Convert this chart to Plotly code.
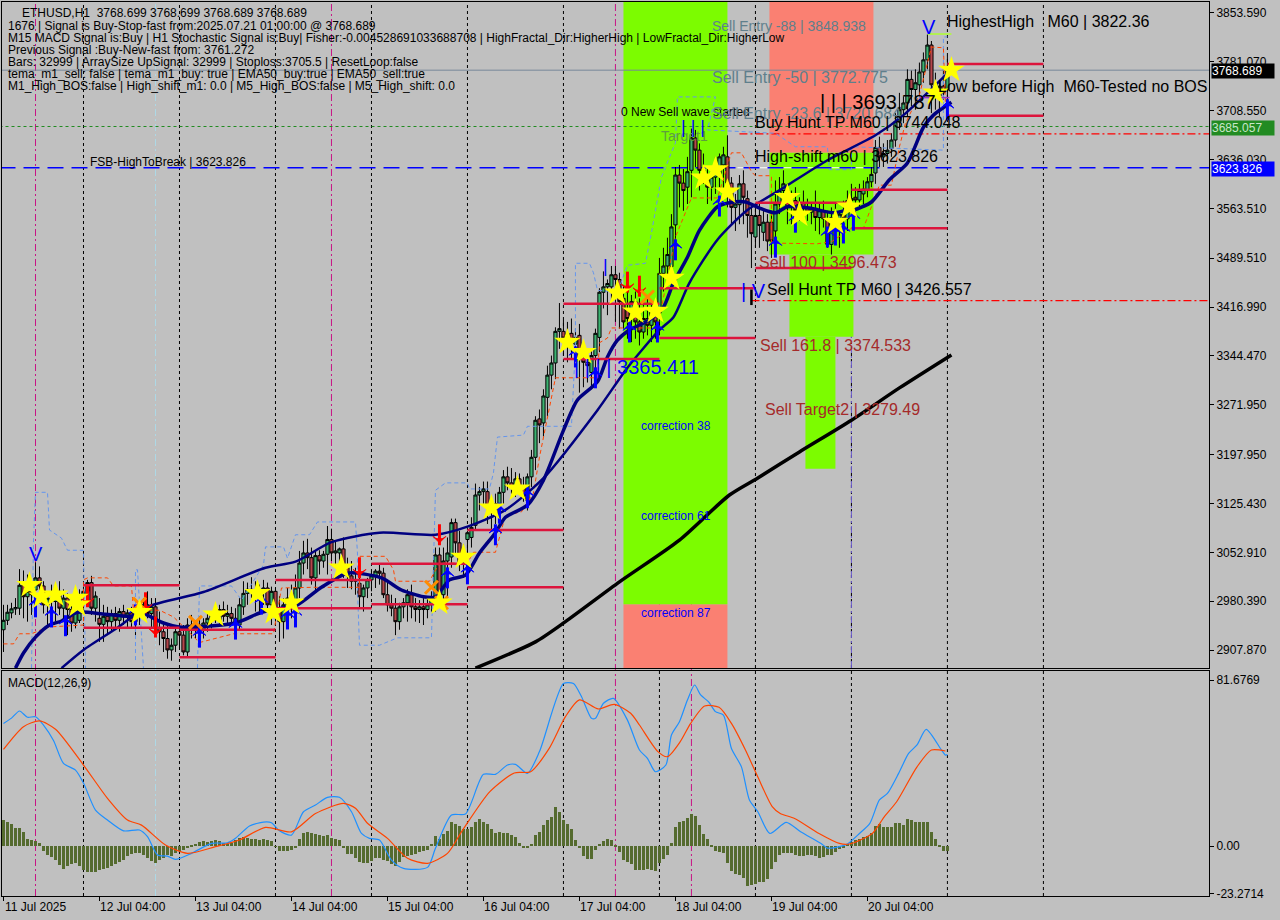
import plotly.graph_objects as go

BG = '#c0c0c0'
FONT = 'Liberation Sans'

# ----- candles, bar 0 is the first hour shown, one row per 24 bars
open_ = [
    2938, 2952, 2963, 2969, 2970, 3004, 2987, 2995, 2997, 3015, 3003, 2975, 2985, 2980, 2995, 2970, 2985, 2968, 2948, 2952, 2990, 2995, 3008, 2970,
    2955, 2946, 2958, 2950, 2962, 2952, 2965, 2957, 2963, 2950, 2958, 2967, 2975, 2962, 2972, 2940, 2935, 2925, 2908, 2915, 2935, 2930, 2905, 2945,
    2940, 2945, 2938, 2948, 2955, 2960, 2952, 2968, 2958, 2962, 2955, 2945, 2972, 2992, 2998, 2995, 2985, 2995, 3000, 2975, 2995, 2965, 2950, 2975,
    2985, 2975, 3000, 3037, 3052, 3045, 3015, 3048, 3040, 3050, 3072, 3052, 3052, 3058, 3030, 3018, 3010, 3007, 2987, 3000, 3012, 3018, 3025, 3022,
    2990, 2975, 2970, 2950, 2972, 2978, 2990, 2972, 2968, 2972, 2968, 2975, 2982, 3049, 2990, 3040, 3046, 3097, 3067, 3038, 3072, 3075, 3093, 3138,
    3143, 3143, 3122, 3110, 3125, 3142, 3165, 3156, 3150, 3162, 3150, 3130, 3165, 3194, 3251, 3245, 3283, 3316, 3334, 3381, 3381, 3371, 3378, 3362,
    3375, 3340, 3335, 3320, 3345, 3372, 3439, 3447, 3447, 3465, 3458, 3430, 3415, 3400, 3425, 3395, 3380, 3400, 3390, 3410, 3408, 3467, 3478, 3477,
    3539, 3613, 3601, 3595, 3620, 3668, 3650, 3620, 3605, 3595, 3610, 3615, 3628, 3640, 3601, 3565, 3569, 3600, 3578, 3553, 3521, 3553, 3528, 3543,
    3543, 3530, 3570, 3590, 3590, 3565, 3575, 3560, 3572, 3565, 3558, 3562, 3550, 3560, 3548, 3510, 3550, 3540, 3555, 3548, 3575, 3580, 3576, 3585,
    3591, 3603, 3616, 3654, 3640, 3645, 3652, 3665, 3692, 3710, 3720, 3755, 3740, 3747, 3766, 3784, 3806, 3747, 3730, 3745, 3740,
]
high = [
    2975, 2975, 2978, 2985, 3028, 3026, 3020, 3012, 3038, 3032, 3010, 2995, 3005, 3008, 3010, 2998, 2992, 2990, 2985, 2998, 3002, 3012, 3018, 2995,
    2985, 2975, 2972, 2968, 2972, 2970, 2975, 2968, 2972, 2965, 2975, 2985, 2995, 2985, 2985, 2965, 2950, 2945, 2925, 2945, 2948, 2945, 2955, 2960,
    2952, 2958, 2955, 2962, 2965, 2972, 2975, 2980, 2975, 2972, 2970, 2985, 3010, 3008, 3016, 3010, 3005, 3012, 3008, 3002, 3000, 2988, 2985, 3000,
    3005, 3020, 3055, 3070, 3073, 3060, 3055, 3056, 3055, 3092, 3088, 3070, 3060, 3075, 3045, 3040, 3030, 3022, 3005, 3015, 3025, 3028, 3035, 3030,
    3008, 2990, 2985, 2978, 2985, 2998, 3005, 2985, 2982, 2985, 2985, 2995, 3060, 3060, 3060, 3075, 3103, 3103, 3085, 3065, 3085, 3105, 3155, 3150,
    3158, 3158, 3135, 3140, 3150, 3175, 3180, 3178, 3172, 3170, 3165, 3170, 3205, 3255, 3265, 3295, 3330, 3345, 3387, 3423, 3398, 3395, 3400, 3385,
    3392, 3362, 3352, 3355, 3385, 3445, 3470, 3458, 3478, 3478, 3468, 3450, 3440, 3435, 3440, 3430, 3420, 3430, 3420, 3425, 3490, 3505, 3520, 3555,
    3625, 3628, 3622, 3640, 3682, 3680, 3660, 3645, 3625, 3620, 3640, 3645, 3655, 3672, 3610, 3585, 3613, 3620, 3590, 3565, 3570, 3570, 3560, 3555,
    3560, 3605, 3610, 3620, 3600, 3590, 3595, 3580, 3590, 3578, 3572, 3590, 3570, 3575, 3560, 3565, 3570, 3560, 3575, 3590, 3600, 3595, 3600, 3605,
    3610, 3625, 3665, 3670, 3660, 3665, 3675, 3705, 3735, 3730, 3770, 3768, 3770, 3780, 3795, 3822, 3812, 3765, 3752, 3770, 3790,
]
low = [
    2905, 2945, 2955, 2960, 2960, 2955, 2950, 2960, 2972, 2995, 2962, 2945, 2955, 2950, 2960, 2950, 2930, 2935, 2940, 2948, 2965, 2975, 2960, 2950,
    2920, 2920, 2930, 2935, 2940, 2935, 2945, 2942, 2940, 2930, 2945, 2955, 2955, 2940, 2930, 2915, 2905, 2895, 2892, 2905, 2910, 2900, 2898, 2925,
    2925, 2930, 2925, 2935, 2940, 2948, 2945, 2950, 2945, 2948, 2935, 2938, 2960, 2975, 2985, 2965, 2960, 2975, 2965, 2945, 2950, 2920, 2925, 2940,
    2955, 2960, 2985, 3020, 3028, 3005, 2995, 3020, 3030, 3020, 3040, 3030, 3030, 3015, 3000, 2998, 2990, 2970, 2965, 2985, 2995, 3000, 3005, 2985,
    2965, 2958, 2930, 2938, 2955, 2950, 2955, 2950, 2948, 2945, 2955, 2965, 2965, 2985, 2980, 2985, 3030, 3050, 3025, 3015, 3020, 3060, 3085, 3115,
    3125, 3095, 3085, 3095, 3110, 3125, 3145, 3140, 3135, 3140, 3128, 3115, 3150, 3175, 3215, 3225, 3255, 3295, 3310, 3355, 3345, 3335, 3340, 3330,
    3290, 3298, 3305, 3295, 3320, 3350, 3415, 3405, 3425, 3395, 3385, 3385, 3370, 3365, 3370, 3360, 3370, 3375, 3365, 3370, 3375, 3440, 3460, 3465,
    3510, 3565, 3560, 3570, 3580, 3625, 3590, 3600, 3570, 3575, 3585, 3595, 3590, 3565, 3540, 3530, 3540, 3540, 3520, 3475, 3505, 3505, 3515, 3500,
    3490, 3510, 3555, 3575, 3540, 3540, 3545, 3545, 3550, 3545, 3540, 3530, 3525, 3535, 3505, 3495, 3520, 3505, 3535, 3530, 3560, 3555, 3565, 3570,
    3580, 3595, 3600, 3625, 3625, 3630, 3640, 3655, 3680, 3690, 3700, 3715, 3710, 3730, 3750, 3770, 3705, 3710, 3700, 3725, 3700,
]
close = [
    2952, 2964, 2969, 2971, 3004, 2987, 2995, 2990, 3015, 3003, 2975, 2985, 2980, 2995, 2970, 2985, 2968, 2948, 2965, 2990, 2995, 3008, 2970, 2988,
    2946, 2958, 2950, 2962, 2952, 2965, 2957, 2963, 2950, 2958, 2967, 2975, 2962, 2972, 2940, 2935, 2925, 2908, 2915, 2935, 2930, 2905, 2945, 2938,
    2945, 2938, 2948, 2955, 2960, 2952, 2968, 2958, 2962, 2955, 2945, 2975, 2992, 2998, 2995, 2985, 2995, 3000, 2975, 2995, 2965, 2950, 2975, 2985,
    2975, 3000, 3037, 3052, 3045, 3015, 3048, 3040, 3050, 3072, 3052, 3055, 3058, 3030, 3018, 3010, 3012, 2987, 3000, 3012, 3018, 3025, 3022, 2990,
    2975, 2970, 2950, 2972, 2978, 2990, 2972, 2968, 2972, 2968, 2975, 2985, 3049, 2990, 3040, 3052, 3097, 3067, 3038, 3055, 3082, 3090, 3138, 3143,
    3147, 3122, 3118, 3125, 3142, 3165, 3156, 3150, 3162, 3150, 3138, 3165, 3194, 3249, 3242, 3285, 3316, 3334, 3381, 3385, 3371, 3378, 3365, 3372,
    3340, 3335, 3330, 3345, 3378, 3439, 3447, 3452, 3465, 3458, 3425, 3395, 3400, 3425, 3395, 3380, 3400, 3390, 3410, 3395, 3467, 3478, 3495, 3536,
    3613, 3601, 3590, 3618, 3668, 3650, 3620, 3605, 3595, 3610, 3615, 3640, 3643, 3601, 3565, 3570, 3600, 3580, 3553, 3526, 3553, 3538, 3543, 3515,
    3515, 3570, 3590, 3600, 3565, 3575, 3560, 3572, 3565, 3558, 3562, 3550, 3560, 3548, 3510, 3550, 3540, 3555, 3548, 3575, 3578, 3576, 3590, 3592,
    3603, 3614, 3654, 3640, 3645, 3650, 3665, 3692, 3710, 3720, 3755, 3740, 3750, 3766, 3784, 3806, 3747, 3730, 3745, 3735, 3768.689,
]

# ----- moving averages: bar position, price
ema_fast_x = [3, 5, 8, 11.5, 14.5, 18.5, 25.5, 32, 34, 40, 44, 58, 64.5, 69.5, 73.5, 79.5, 86, 94.5, 99.5, 105, 108, 111.5, 115.5, 119, 123, 125.5, 131, 135, 140, 143.5, 148.5, 151, 153.5, 156.5, 161.5, 165, 167.5, 171, 174, 178.5, 181.5, 185.5, 189, 193, 196, 201.5, 207.5, 211, 212.5, 217, 221.5, 226, 230, 232.5, 237]
ema_fast_y = [2881, 2903.5, 2927, 2945, 2951, 2964, 2961, 2958, 2964, 2948, 2942, 2948, 2964, 2970, 2975, 3001, 3022, 3015, 2997, 2987, 2987, 3012, 3019, 3052, 3082, 3105, 3123, 3160, 3234, 3279, 3306, 3343, 3368, 3383, 3398, 3417, 3453, 3491, 3531, 3566, 3572, 3573, 3564, 3557, 3566, 3564, 3557, 3561, 3561, 3573, 3606, 3631, 3684, 3702, 3721]
ema_slow_x = [14.5, 20, 28.5, 36, 50, 65.5, 73, 82, 94, 108, 116, 125.5, 135, 148.5, 156, 164, 167.5, 171.5, 178.5, 186, 195, 206, 218, 225, 236]
ema_slow_y = [2881, 2908, 2941, 2972, 2994, 3030, 3039, 3068, 3082, 3079, 3091, 3116, 3163, 3264, 3327, 3383, 3402, 3453, 3517, 3561, 3594, 3635, 3672, 3702, 3764]
ema_long_x = [118, 133, 140.5, 154, 169, 181.5, 188.5, 199, 212, 224, 237]
ema_long_y = [2881, 2920, 2950, 3009, 3071, 3138, 3163, 3202, 3249, 3297, 3346]

# ----- dashed channels, None breaks the line
chan_up_x = [7, 7.5, 8, 11, 11.5, 14.5, 16, 20, 20.5, None, 33, 33, 33.5, 35, None, 48.5, 49, 57, 59.5, 65, 65.5, 70, 71, 73, 76.5, 78.5, 88, 88.5, 88.5, 89, 94, 98.5, 107, 108, 110.5, 116, 116.5, 121.5, 122.5, 123.5, 130, 131, 142, 143, 143, 146.5, 147.5, 148.5, 153.5, 156, 160.5, 162, 164.5, 168, 168.5, 178, 176, 193, 198, 206, 206.5, 212, 212, 235, 235, 236]
chan_up_y = [2881, 3071, 3142, 3142, 3086, 3074, 3056, 3056, 2881, None, 2893, 3027, 3027, 2881, None, 2881, 3003, 3003, 2982, 3034, 3061, 3061, 3044, 3079, 3079, 3098, 3098, 3052, 2997, 2915, 2915, 2926, 2926, 3145, 3156, 3156, 3147, 3147, 3171, 3224, 3227, 3240, 3240, 3358, 3482, 3482, 3468, 3442, 3439, 3479, 3482, 3527, 3610, 3661, 3729, 3729, 3680, 3675, 3655, 3655, 3621, 3621, 3655, 3650, 3818, 3818]
chan_dn_x = [0, 2.5, 4, 7, 11, 16, 20, 20, 21, 26, 27.5, 32, 32.5, 39, 42.5, 49, 53.5, 57.5, 67.5, 69.5, 77.5, 89, 89, 95.5, 97.5, 98, 106.5, 109, 116, 117.5, 123, 125.5, 129.5, 132.5, 134, 135.5, 137, 138, 148.5, 149, 151, 152, 163.5, 168, 172, 178.5, 182, 184.5, 187, 188, 192, 192, 203.5, 207, 212, 215, 217, 219, 222, 224, 225.5, 229, 232, 235, 235.5]
chan_dn_y = [2917, 2917, 2932, 2932, 2942, 2944, 2945, 3012, 3015, 3015, 3003, 3003, 2967, 2967, 2957, 2919, 2926, 2932, 2932, 3000, 3001, 3001, 3047, 3047, 3027, 3010, 3010, 3037, 3037, 3053, 3053, 3108, 3113, 3141, 3194, 3239, 3279, 3312, 3312, 3364, 3371, 3386, 3386, 3521, 3579, 3579, 3646, 3646, 3618, 3612, 3612, 3512, 3511, 3514, 3534, 3534, 3566, 3598, 3598, 3655, 3690, 3732, 3803, 3802, 3720]

# ----- signal marks
star_x = [6.5, 9.5, 13, 18, 18.5, 34, 53, 63.5, 67.5, 72, 84.5, 109, 115, 122, 128.5, 141, 145, 153.5, 158, 163, 167, 175, 178, 181, 196, 199, 208, 211.5, 233, 237]
star_y = [3004, 2987, 2990, 2985, 2975, 2964, 2960, 2992, 2964, 2978, 3030, 2978, 3046, 3119, 3147, 3365, 3350, 3438, 3410, 3411, 3460, 3609, 3621, 3588, 3580, 3554, 3543, 3566, 3735, 3769]
cross_x = [34, 48, 107, 109.5, 161]
cross_y = [2976, 2949, 3001, 2978, 3432]
up_x = [8, 12, 15.5, 33, 49, 58, 64.5, 71, 73, 111, 116, 123, 124, 131, 143, 148, 156.5, 163.5, 168, 179, 193, 198, 206, 208, 210, 212.5, 236]
up_y = [2972, 2957, 2944, 2960, 2927, 2939, 2976, 2954, 2957, 3015, 3021, 3079, 3111, 3134, 3343, 3312, 3380, 3380, 3502, 3567, 3506, 3543, 3521, 3524, 3527, 3546, 3710]
down_x = [21, 35.5, 38, 89, 109, 156, 159]
down_y = [2987, 2978, 2942, 3030, 3079, 3454, 3448]

# ----- red level segments: start bar, end bar, price
seg_start = [20, 20, 44, 44, 68, 68, 92, 92, 116, 116, 140, 140, 164, 164, 188, 188, 212, 212, 236, 236]
seg_end = [44, 44, 68, 68, 92, 92, 116, 116, 140, 140, 164, 164, 188, 188, 212, 212, 236, 236, 260, 260]
seg_price = [3004, 2941, 2938, 2897, 3012, 2970, 3036, 2976, 3086, 3001, 3422, 3340, 3445, 3371, 3572, 3475, 3591, 3534, 3778, 3701]

# ----- coloured zones: first bar, last bar, low, high
zone_x0 = [155, 155, 191.5, 191.5, 196.5, 200.5]
zone_x1 = [181, 181, 217.5, 217.5, 212.5, 208]
zone_lo = [2881, 2976, 3646, 3495, 3373, 3177]
zone_hi = [2976, 3870, 3870, 3646, 3495, 3373]
zone_col = ['salmon', 'lawngreen', 'salmon', 'lawngreen', 'lawngreen', 'lawngreen']

# ----- macd panel
hist = [
    12.8, 12, 10.8, 8.7, 8.7, 6.7, 3.4, 3.1, 2.6, 1.3, -2.5, -4.5, -5.5, -7, -9.5, -11.5, -10, -9, -8.5, -10, -12, -12.8, -13, -13,
    -12, -11.5, -11, -10, -9, -8, -7, -5, -4, -3.5, -3.5, -4.5, -6, -7.5, -8.5, -7, -6, -4.5, -5, -3.5, -2.5, -2, -1, 0.5,
    1, 2, 2.5, 2, 2.5, 3, 2.5, 1.5, 1, 1.5, 3, 4, 4.5, 4, 3.5, 3.5, 3, 3.5, 3, 2.5, -0.3, -2.5, -2.5, -2.5,
    -2, -1, 3.5, 6.5, 7, 6.5, 6, 5.5, 5, 5.5, 4, 3.5, 3, -0.5, -4, -4, -6, -8, -8.5, -8.5, -7.5, -6, -6, -7,
    -7.5, -9, -10, -8, -5.5, -5, -4.5, -4, -3, -2.5, -2, 1, 5, 3.5, 6, 7.5, 12, 11, 10, 8.5, 8.5, 9.5, 12, 13.5,
    12, 11, 8.5, 6.5, 7, 6.5, 6.5, 5.5, 4.5, 1.5, -0.5, -0.5, 1, 5.5, 7, 10.5, 13, 14.5, 19, 17, 13, 11, 8.5, 3,
    -1, -5, -6.5, -6.5, -2, 1, 2.5, 3.5, 3, 0.3, -3, -7, -8, -9, -12, -12, -12, -11.5, -12, -12.5, -8.5, -6.5, -4.5, 1.5,
    9.5, 12, 12.5, 14, 16, 15, 10.5, 6, 3.5, 0.3, -2.5, -3, -3.5, -8.5, -12.5, -14, -14.5, -15.5, -19.5, -19, -18.5, -17.5, -17.5, -16,
    -11.5, -8, -4.5, -3.5, -3.5, -3.5, -4.5, -5, -5, -4.5, -4.5, -5, -6, -5.5, -4.5, -4.5, -3, -1.5, -1, 1, 2, 3, 3.5, 4.5,
    5, 6.5, 10, 11, 9.5, 9.5, 9.5, 11.5, 11.5, 10.5, 13.5, 13, 12, 12, 12, 12, 7, 3.5, 0.5, -2.5, -2.5,
]
macd_x = [0, 2, 4, 6, 8, 10, 12.5, 15, 18, 20, 23, 26, 30, 34, 36, 38.5, 41, 43, 47, 52, 56, 58, 61.5, 65, 67, 69, 72, 75, 78, 81, 84, 87, 89.5, 91.5, 94, 97, 100, 106, 108, 112, 115.5, 120, 123, 126, 128, 131, 134, 140, 142.5, 144.5, 147, 148, 150, 152.5, 156, 159, 161, 163, 165.6, 167, 169, 171, 172.8, 174.3, 176.3, 178, 180, 182, 184.5, 186.5, 188.6, 191.6, 195.7, 199.3, 204.4, 206, 209, 211, 214, 216.6, 219, 221, 223.8, 226.3, 228.4, 230.7, 234.5, 235.5, 236]
macd_y = [60.4, 63, 66.5, 63.4, 63.7, 59.6, 52, 40.7, 37.4, 31, 17.7, 12.8, 7.5, 7.9, 4.6, -4.4, -5, -6.6, -3.6, 1.3, 1.6, 3.8, 9.9, 11.8, 11.5, 7.5, 5.4, 16.9, 20.2, 24, 24, 16.9, 6.2, 3.8, 3, -6.9, -11, -10.5, -1.1, 15.3, 15.8, 35.3, 35.3, 39.9, 40.2, 35.8, 46.5, 80, 80, 73.6, 62.9, 62.9, 70.3, 72.7, 62, 47.3, 43.2, 36.6, 39.9, 54.7, 61.2, 71.9, 79.3, 74.4, 71, 66.2, 64.5, 48, 39, 22.7, 16.9, 6.2, 11.7, 7, 1.3, -1, -0.3, 1, 6.2, 11.2, 22.7, 25.9, 35.8, 45.6, 49.8, 57.5, 47.3, 44.8, 45]
signal_x = [0, 5, 9, 13, 20, 26, 31, 34.5, 40.5, 46, 53, 59, 65.5, 72, 78, 85, 88, 91, 96, 101, 106, 111, 114.5, 121.6, 127.7, 131.8, 136.4, 140.5, 144, 148.7, 152.7, 156.8, 159, 163.6, 166, 169.2, 171.8, 175.3, 178.9, 182, 185.5, 188.6, 192.2, 194.2, 197.8, 203.9, 209, 211.5, 217.2, 220.2, 223.3, 228.4, 232, 235.5]
signal_y = [47.6, 58.8, 61.6, 57.5, 39.9, 23.5, 12.8, 10.3, 0.5, -3.6, -0.3, 3, 9.2, 7, 16, 21, 18.6, 11.2, 3.8, -6, -8.5, -3.6, 7, 26.8, 36, 36.6, 48, 63.7, 72, 67.5, 69.8, 65.4, 59.6, 46.5, 44, 51.4, 60.4, 69, 68.3, 60.4, 47.3, 34, 19.4, 16, 13.6, 6.2, 1.3, 1, 6.2, 14.4, 21.8, 39, 47.3, 46.8]

# ----- axes
price_ticks = [3853.59, 3781.07, 3708.55, 3636.03, 3563.51, 3489.51, 3416.99, 3344.47, 3271.95, 3197.95, 3125.43, 3052.91, 2980.39, 2907.87]
price_tick_text = ['3853.590', '3781.070', '3708.550', '3636.030', '3563.510', '3489.510', '3416.990', '3344.470', '3271.950', '3197.950', '3125.430', '3052.910', '2980.390', '2907.870']
macd_ticks = [81.6769, 0, -23.2714]
macd_tick_text = ['81.6769', '0.00', '-23.2714']
date_ticks = [0, 24, 48, 72, 96, 120, 144, 168, 192, 216]
date_labels = ['11 Jul 2025', '12 Jul 04:00', '13 Jul 04:00', '14 Jul 04:00', '15 Jul 04:00', '16 Jul 04:00', '17 Jul 04:00', '18 Jul 04:00', '19 Jul 04:00', '20 Jul 04:00']
separators = [20, 44, 68, 92, 116, 140, 164, 188, 212, 236, 260]
session_marks = [8, 82, 153, 172]
bar_x = list(range(len(close)))


def x_paper(px):
    return px / 1280


def y_paper(px):
    return 1 - px / 920


fig = go.Figure()

fig.add_trace(go.Candlestick(
    x=bar_x, open=open_, high=high, low=low, close=close,
    increasing=dict(fillcolor='#3cb371', line=dict(color='black', width=1)),
    decreasing=dict(fillcolor='#b5474c', line=dict(color='black', width=1)),
    whiskerwidth=0, showlegend=False, hoverinfo='skip'))


def add_line(x, y, color, width, dash='solid', xaxis='x', yaxis='y', smooth=False):
    line = dict(color=color, width=width, dash=dash)
    if smooth:
        line.update(shape='spline', smoothing=0.7)
    fig.add_trace(go.Scatter(x=x, y=y, mode='lines', xaxis=xaxis, yaxis=yaxis, showlegend=False,
                             hoverinfo='skip', connectgaps=False, line=line))


add_line(chan_up_x, chan_up_y, '#6495ed', 1, '4px,3px')
add_line(chan_dn_x, chan_dn_y, '#ff4500', 1, '4px,3px')
add_line(ema_long_x, ema_long_y, 'black', 3.5, smooth=True)
add_line(ema_slow_x, ema_slow_y, '#000080', 2.5, smooth=True)
add_line(ema_fast_x, ema_fast_y, '#000080', 3.5, smooth=True)

# level segments as one broken line
seg_x, seg_y = [], []
for a, b, p in zip(seg_start, seg_end, seg_price):
    seg_x += [a, b, None]
    seg_y += [p, p, None]
add_line(seg_x, seg_y, '#dc143c', 2.5)
add_line([231, 237], [3822.36, 3822.36], '#adff2f', 1.5)
add_line([229, 236.5], [3728, 3728], '#9932cc', 1.5)
add_line([187, 187], [3443, 3420], 'black', 2.5)


def add_marks(x, y, symbol, color, size, line_w=0, angle=0):
    fig.add_trace(go.Scatter(x=x, y=y, mode='markers', showlegend=False, hoverinfo='skip',
                             marker=dict(symbol=symbol, color=color, size=size, angle=angle,
                                         line=dict(color=color, width=line_w))))


# arrows are a stem plus a head, the head tip sits about 8px from the mark's centre
HEAD_SHIFT = 12
add_marks(up_x, up_y, 'line-ns', '#0000ff', 15, 3)
add_marks(up_x, [p + HEAD_SHIFT for p in up_y], 'arrow-wide', '#0000ff', 9, 1)
add_marks(down_x, down_y, 'line-ns', '#ff0000', 15, 3)
add_marks(down_x, [p - HEAD_SHIFT for p in down_y], 'arrow-wide', '#ff0000', 9, 1, 180)
add_marks(cross_x, cross_y, 'x-thin', '#ff8c00', 13, 3)
add_marks(star_x, star_y, 'star', '#ffff00', 20)

# macd panel
fig.add_trace(go.Bar(x=bar_x, y=hist, xaxis='x2', yaxis='y2', width=0.72, showlegend=False,
                     hoverinfo='skip', marker=dict(color='#556b2f', line=dict(width=0))))
add_line(macd_x, macd_y, '#1e90ff', 1.2, xaxis='x2', yaxis='y2', smooth=True)
add_line(signal_x, signal_y, '#ff4500', 1.2, xaxis='x2', yaxis='y2', smooth=True)

# zones
for x0, x1, lo, hi, col in zip(zone_x0, zone_x1, zone_lo, zone_hi, zone_col):
    fig.add_shape(type='rect', x0=x0, x1=x1, y0=lo, y1=hi, xref='x', yref='y', layer='below',
                  fillcolor=col, line=dict(width=0))

# period separators and session lines
for s in separators:
    fig.add_shape(type='line', x0=s, x1=s, y0=y_paper(896), y1=y_paper(2), xref='x', yref='paper', layer='below',
                  line=dict(color='black', width=1, dash='3px,3px'))
for s in session_marks:
    fig.add_shape(type='line', x0=s, x1=s, y0=y_paper(896), y1=y_paper(2), xref='x', yref='paper', layer='below',
                  line=dict(color='#c71585', width=1, dash='7px,3px,2px,3px'))
fig.add_shape(type='line', x0=38, x1=38, y0=y_paper(896), y1=y_paper(2), xref='x', yref='paper', layer='below',
              line=dict(color='#add8e6', width=1, dash='7px,3px,2px,3px'))
fig.add_shape(type='line', x0=164, x1=164, y0=y_paper(668), y1=y_paper(2), xref='x', yref='paper', layer='below',
              line=dict(color='#c71585', width=1, dash='7px,3px,2px,3px'))
fig.add_shape(type='line', x0=212, x1=212, y0=y_paper(668), y1=y_paper(2), xref='x', yref='paper', layer='below',
              line=dict(color='#6a5acd', width=1, dash='7px,3px,2px,3px'))

# horizontal price levels
fig.add_shape(type='line', x0=-1, x1=302, y0=3768.689, y1=3768.689, layer='below', line=dict(color='#778899', width=1))
fig.add_shape(type='line', x0=-1, x1=302, y0=3685.057, y1=3685.057, layer='below', line=dict(color='#228b22', width=1, dash='3px,3px'))
fig.add_shape(type='line', x0=183.5, x1=218.5, y0=3623.826, y1=3623.826, layer='below', line=dict(color='white', width=1))
fig.add_shape(type='line', x0=-1, x1=302, y0=3623.826, y1=3623.826, layer='below', line=dict(color='#0000ff', width=1.4, dash='16px,8px'))
fig.add_shape(type='line', x0=184, x1=302, y0=3674, y1=3674, layer='below', line=dict(color='#ff0000', width=1.2, dash='8px,3px,2px,3px'))
fig.add_shape(type='line', x0=187, x1=302, y0=3426.557, y1=3426.557, layer='below', line=dict(color='#ff0000', width=1.2, dash='8px,3px,2px,3px'))

notes = []


def note(text, x, y, size=12, color='black', bg=None, width=None, anchor='left'):
    a = dict(text=text, x=x_paper(x), y=y_paper(y), xref='paper', yref='paper', xanchor=anchor, yanchor='middle',
             showarrow=False, align='left', font=dict(family=FONT, size=size, color=color), borderpad=0)
    if bg:
        a['bgcolor'] = bg
        a['width'] = width
        a['height'] = 14
    notes.append(a)


# status block top left
note('ETHUSD,H1  3768.699 3768.699 3768.689 3768.689', 21, 13)
note('1676 | Signal is Buy-Stop-fast from:2025.07.21 01:00:00 @ 3768.689', 7, 26)
note('M15 MACD Signal is:Buy | H1 Stochastic Signal is:Buy| Fisher:-0.004528691033688708 | HighFractal_Dir:HigherHigh | LowFractal_Dir:HigherLow', 7, 38)
note('Previous Signal :Buy-New-fast from: 3761.272', 7, 50)
note('Bars: 32999 | ArraySize UpSignal: 32999 | Stoploss:3705.5 | ResetLoop:false', 7, 62)
note('tema_m1_sell: false | tema_m1_buy: true | EMA50_buy:true | EMA50_sell:true', 7, 74)
note('M1_High_BOS:false | High_shift_m1: 0.0 | M5_High_BOS:false | M5_High_shift: 0.0', 7, 86)
note('FSB-HighToBreak | 3623.826', 89, 162)
note('MACD(12,26,9)', 7, 683)

# chart object labels
note('0 New Sell wave started', 620, 112)
note('Sell Entry -88 | 3848.938', 711, 26, 14, '#5f7f8c')
note('Sell Entry -50 | 3772.775', 711, 78, 16, '#5f7f8c')
note('Sell Entry -23.6 | 3720.684', 711, 113, 16, '#5f7f8c')
note('Target1', 660, 136, 14, '#5e9e3e')
note('Buy Hunt TP M60 | 3744.048', 754, 122, 16)
note('High-shift m60 | 3623.826', 754, 156, 16)
note('| | | 3693.787', 819, 102, 20)
note('HighestHigh   M60 | 3822.36', 946, 22, 16)
note('Low before High  M60-Tested no BOS', 937, 86, 16)
note('Sell Hunt TP M60 | 3426.557', 766, 289, 16)
note('Sell 100 | 3496.473', 758, 263, 16, '#a52a2a')
note('Sell 161.8 | 3374.533', 759, 345, 16, '#a52a2a')
note('Sell Target2 | 3279.49', 764, 409, 16, '#a52a2a')
note('correction 38', 640, 426, 12, '#0000ff')
note('correction 61', 640, 516, 12, '#0000ff')
note('correction 87', 640, 613, 12, '#0000ff')
note('| | | | 3365.411', 573, 367, 20, '#0000ff')
note('| | |', 680, 127, 18, '#0000ff')
note('|', 602, 266, 18, '#0000ff')
note('V', 921, 27, 20, '#0000ff')
note('V', 28, 554, 20, '#0000ff')
note('| V', 740, 291, 20, '#0000ff')

# right hand price boxes
note('3768.689', 1211, 71, 12, 'white', 'black', 62)
note('3685.057', 1211, 128, 12, '#c8e6c8', '#228b22', 62)
note('3623.826', 1211, 169, 12, 'white', '#0000ff', 62)

# date labels start at their tick
for d, lab in zip(date_ticks, date_labels):
    notes.append(dict(text=lab, x=d, y=y_paper(907), xref='x2', yref='paper', xanchor='left', yanchor='middle',
                      showarrow=False, xshift=-1, font=dict(family=FONT, size=12, color='black')))

X_RANGE = [-0.375, 301.4]
DOMAIN_X = [x_paper(2), x_paper(1209)]
frame = dict(showline=True, linecolor='black', linewidth=1, mirror=True, showgrid=False, zeroline=False)

fig.update_layout(
    width=1280, height=920, margin=dict(l=0, r=0, t=0, b=0, autoexpand=False),
    paper_bgcolor=BG, plot_bgcolor=BG, showlegend=False, bargap=0,
    boxgap=0.2, boxgroupgap=0,
    font=dict(family=FONT, size=12, color='black'),
    xaxis=dict(range=X_RANGE, domain=DOMAIN_X, anchor='y', showticklabels=False, ticks='',
               rangeslider=dict(visible=False), **frame),
    yaxis=dict(range=[2881.2, 3869.9], domain=[y_paper(668), y_paper(2)], anchor='x', side='right',
               tickvals=price_ticks, ticktext=price_tick_text, ticks='outside', ticklen=4, tickcolor='black',
               tickfont=dict(size=12), **frame),
    xaxis2=dict(range=X_RANGE, domain=DOMAIN_X, anchor='y2', tickvals=date_ticks, ticktext=[''] * len(date_ticks),
                ticks='outside', ticklen=4, tickcolor='black', **frame),
    yaxis2=dict(range=[-24.6, 86.2], domain=[y_paper(896), y_paper(671)], anchor='x2', side='right',
                tickvals=macd_ticks, ticktext=macd_tick_text, ticks='outside', ticklen=4, tickcolor='black',
                tickfont=dict(size=12), **frame),
    annotations=notes,
)

fig.write_html('out.html', config=dict(displayModeBar=False),
               post_script="document.body.style.margin='0';document.body.style.background='#c0c0c0';")
